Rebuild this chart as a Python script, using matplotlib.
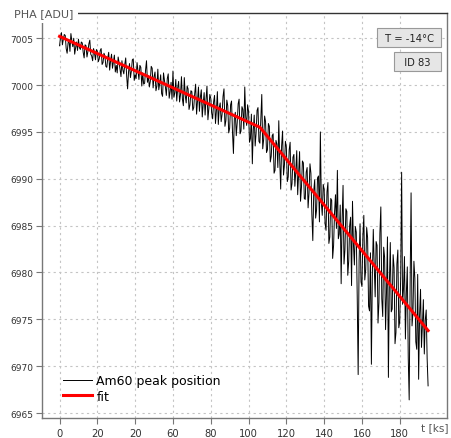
import numpy as np
import matplotlib
matplotlib.use('Agg')
import matplotlib.pyplot as plt

# measured peak position, one sample every 0.5 ks
pha = [
    7004.2, 7005.1, 7005.6, 7004.3, 7004.9, 7005.4, 7005.3, 7003.9, 7003.4, 7004.5,
    7004.8, 7003.6, 7005.5, 7004.7, 7004.1, 7005.0, 7003.3, 7004.0, 7004.6, 7003.7,
    7004.9, 7004.0, 7003.8, 7004.6, 7004.5, 7003.5, 7002.9, 7004.3, 7004.2, 7003.0,
    7003.6, 7004.4, 7004.8, 7003.3, 7003.1, 7002.6, 7003.9, 7003.4, 7002.7, 7003.8,
    7003.6, 7002.5, 7002.8, 7003.7, 7003.9, 7002.2, 7002.4, 7003.4, 7003.1, 7002.0,
    7001.9, 7002.9, 7003.5, 7001.6, 7002.6, 7003.3, 7001.8, 7002.5, 7003.2, 7001.4,
    7002.1, 7001.3, 7003.0, 7002.4, 7001.7, 7000.9, 7002.6, 7001.6, 7001.2, 7002.2,
    7002.9, 7001.0, 6999.6, 7001.4, 7002.3, 7000.8, 7001.5, 7002.7, 7002.8, 7000.5,
    7001.1, 7000.7, 7002.4, 7001.5, 7000.6, 7002.1, 7001.9, 6999.9, 7001.3, 7000.1,
    7000.2, 7001.6, 7002.6, 7000.3, 7001.0, 6999.8, 7000.4, 7002.0, 7001.8, 6999.7,
    7000.9, 7001.4, 6999.4, 6999.9, 7001.7, 6999.5, 7000.2, 7001.1, 6999.1, 6998.8,
    7001.3, 7000.5, 6999.8, 6998.9, 7000.7, 7001.2, 6998.6, 6999.3, 7000.3, 6998.5,
    7001.5, 6998.7, 6999.2, 7000.6, 6998.3, 6999.7, 7000.4, 6998.2, 6999.0, 7000.9,
    6998.5, 6997.8, 7000.8, 6998.9, 6998.1, 6999.9, 6999.6, 6997.4, 6997.9, 6999.4,
    6999.3, 6997.3, 6997.6, 6999.1, 7000.1, 6996.9, 6998.4, 6999.8, 6997.2, 6998.7,
    6999.5, 6996.6, 6998.0, 6999.2, 6996.8, 6998.5, 6999.9, 6996.3, 6997.5, 6999.0,
    6998.6, 6997.0, 6996.4, 6998.2, 6998.9, 6995.9, 6997.3, 6999.3, 6995.8, 6997.6,
    6998.1, 6996.1, 6996.9, 6998.8, 6999.6, 6995.6, 6996.2, 6998.4, 6997.8, 6994.9,
    6995.4, 6997.9, 6998.3, 6995.0, 6992.7, 6996.5, 6997.1, 6994.6, 6996.0, 6998.0,
    6998.5, 6994.8, 6995.1, 6997.7, 6997.4, 6995.3, 6999.8, 6996.6, 6995.7, 6997.9,
    6997.2, 6993.9, 6994.3, 6996.9, 6991.6, 6995.2, 6996.8, 6993.5, 6994.9, 6997.3,
    6997.6, 6994.0, 6993.8, 6996.4, 6999.0, 6993.2, 6994.2, 6996.7, 6996.1, 6992.8,
    6993.1, 6995.9, 6995.6, 6991.8, 6992.4, 6994.6, 6994.8, 6990.6, 6990.9, 6994.1,
    6993.7, 6991.2, 6996.2, 6992.0, 6988.9, 6993.5, 6995.1, 6990.4, 6991.5, 6994.0,
    6993.4, 6989.7, 6990.2, 6993.1, 6993.9, 6988.8, 6989.5, 6992.3, 6992.6, 6989.2,
    6990.8, 6993.0, 6988.3, 6990.5, 6992.9, 6987.6, 6989.1, 6991.9, 6991.7, 6987.9,
    6987.8, 6990.7, 6991.2, 6986.9, 6988.5, 6991.6, 6990.6, 6986.2, 6983.4, 6988.7,
    6989.9, 6985.8, 6986.7, 6990.1, 6990.3, 6985.4, 6995.0, 6987.5, 6986.1, 6989.4,
    6988.9, 6985.2, 6984.5, 6988.6, 6989.6, 6983.1, 6983.8, 6987.9, 6987.7, 6981.5,
    6982.9, 6986.4, 6988.3, 6984.7, 6990.9, 6983.6, 6984.1, 6987.2, 6978.8, 6985.6,
    6989.3, 6980.9, 6982.4, 6986.8, 6986.5, 6979.7, 6981.2, 6985.0, 6985.9, 6978.6,
    6987.6, 6983.0, 6980.8, 6984.9, 6984.3, 6977.5, 6969.1, 6981.3, 6985.2, 6979.0,
    6978.5, 6983.9, 6986.1, 6979.2, 6980.3, 6984.8, 6983.7, 6976.4, 6975.9, 6982.1,
    6970.2, 6979.6, 6984.6, 6980.7, 6977.4, 6983.3, 6982.9, 6974.6, 6976.8, 6984.2,
    6987.0, 6977.2, 6975.3, 6982.7, 6981.6, 6973.9, 6977.9, 6983.8, 6968.8, 6978.6,
    6983.2, 6975.8, 6976.1, 6981.9, 6980.5, 6972.4, 6973.6, 6980.9, 6982.4, 6974.1,
    6974.8, 6979.5, 6990.7, 6976.6, 6978.3, 6981.7, 6972.9, 6977.8, 6980.6, 6970.9,
    6966.4, 6978.9, 6988.5, 6974.3, 6975.7, 6981.2, 6979.4, 6972.6, 6971.8, 6979.8,
    6968.6, 6975.4, 6978.2, 6972.0, 6974.4, 6977.1, 6971.3, 6974.9, 6976.0, 6970.8,
    6967.9,
]
t_ks = np.arange(len(pha)) * 0.5

# broken-line fit
fit_t = [0, 106, 195]
fit_y = [7005.2, 6995.5, 6973.8]

x_ticks = [0, 20, 40, 60, 80, 100, 120, 140, 160, 180]
x_labels = ['0', '20', '20', '60', '80', '100', '120', '140', '160', '180']
y_ticks = [6965, 6970, 6975, 6980, 6985, 6990, 6995, 7000, 7005]

fig = plt.figure(figsize=(4.51, 4.39), dpi=100)
ax = fig.add_axes([0.0931, 0.0456, 0.898, 0.9226])

ax.plot(t_ks, pha, color='black', lw=0.7, label='Am60 peak position')
ax.plot(fit_t, fit_y, color='red', lw=2.2, label='fit')

ax.set_xlim(-9.3, 205)
ax.set_ylim(6964.47, 7007.7)
ax.set_xticks(x_ticks)
ax.set_xticklabels(x_labels)
ax.set_yticks(y_ticks)
ax.tick_params(direction='out', length=4, width=0.8, color='#777777',
               labelsize=6.5, labelcolor='#333333', pad=2)
ax.tick_params(axis='x', labelsize=7.2, pad=3)

ax.grid(True, color='#c4c4c4', lw=0.8, linestyle=(0, (2, 3)))

for side in ['left', 'bottom', 'right']:
    ax.spines[side].set_color('#777777')
    ax.spines[side].set_linewidth(1.0)
ax.spines['top'].set_color('#333333')
ax.spines['top'].set_linewidth(1.0)

ax.text(-0.069, 1.0, 'PHA [ADU]', transform=ax.transAxes, ha='left', va='center',
        fontsize=8, color='#555555',
        bbox=dict(facecolor='white', edgecolor='none', pad=3.5), clip_on=False)
ax.text(0.937, -0.022, 't [ks]', transform=ax.transAxes, ha='left', va='center',
        fontsize=7.6, color='#555555', clip_on=False)

box = dict(boxstyle='square,pad=0.45', facecolor='#e6e6e6', edgecolor='#999999', lw=0.8)
ax.text(0.975, 0.9388, ' T = -14°C ', transform=ax.transAxes, ha='right', va='center',
        fontsize=7.2, color='#222222', bbox=box)
ax.text(0.975, 0.879, '  ID 83  ', transform=ax.transAxes, ha='right', va='center',
        fontsize=7.2, color='#222222', bbox=box)

ax.legend(loc='lower left', bbox_to_anchor=(0.04, 0.025), borderaxespad=0,
          frameon=False, fontsize=9, handlelength=2.3, handletextpad=0.35,
          labelspacing=0.2)

fig.savefig('out.png', dpi=100)
plt.close(fig)
